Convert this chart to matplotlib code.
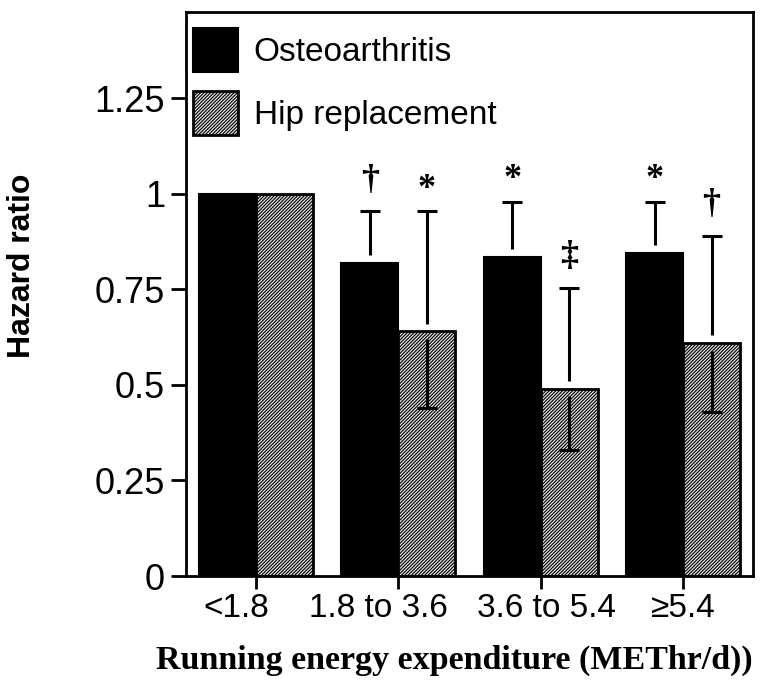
import matplotlib.pyplot as plt
import numpy as np

# data
groups = ['<1.8', '1.8 to 3.6', '3.6 to 5.4', '\u22655.4']
oa_hr = [1.0, 0.82, 0.835, 0.845]
oa_upper = [np.nan, 0.955, 0.98, 0.98]
hip_hr = [1.0, 0.64, 0.49, 0.61]
hip_upper = [np.nan, 0.955, 0.755, 0.89]
hip_lower = [np.nan, 0.44, 0.33, 0.43]
oa_marks = ['', '\u2020', '*', '*']
hip_marks = ['', '*', '\u2021', '\u2020']

# tick labels in the original are not centred on the ticks
label_shift = [-0.14, -0.14, 0.04, 0.0]

plt.rcParams['font.family'] = ['Liberation Sans', 'DejaVu Sans']
plt.rcParams['hatch.linewidth'] = 0.8

fig = plt.figure(figsize=(7.62, 6.82), dpi=100)
ax = fig.add_axes([0.244, 0.1554, 0.744, 0.827])

x = np.arange(len(groups))
w = 0.40
b1 = ax.bar(x - w/2, oa_hr, w, color='black', edgecolor='black', linewidth=1.5,
            label='Osteoarthritis')
b2 = ax.bar(x + w/2, hip_hr, w, color='#e0e0e0', edgecolor='black', linewidth=2,
            hatch='//////////', label='Hip replacement')

gap = 0.02
lw = 2.2
for i in range(len(groups)):
    if not np.isnan(oa_upper[i]):
        ax.vlines(x[i] - w/2, oa_hr[i] + gap, oa_upper[i], color='black', lw=lw)
        ax.plot(x[i] - w/2, oa_upper[i], marker='_', ms=15, mew=lw, color='black')
    if not np.isnan(hip_upper[i]):
        ax.vlines(x[i] + w/2, hip_hr[i] + gap, hip_upper[i], color='black', lw=lw)
        ax.vlines(x[i] + w/2, hip_lower[i], hip_hr[i] - gap, color='black', lw=lw)
        ax.plot([x[i] + w/2] * 2, [hip_upper[i], hip_lower[i]], ls='none',
                marker='_', ms=15, mew=lw, color='black')

def mark(xp, yp, s):
    if s == '':
        return
    off = 22 if s == '*' else 31
    ax.annotate(s, (xp, yp), xytext=(0, off), textcoords='offset pixels',
                ha='center', va='center', fontsize=26, fontweight='bold',
                family='Liberation Serif')

for i in range(len(groups)):
    mark(x[i] - w/2, oa_upper[i], oa_marks[i])
    mark(x[i] + w/2, hip_upper[i], hip_marks[i])

ax.set_xlim(-0.49, 3.49)
ax.set_ylim(0, 1.476)
ax.set_yticks([0, 0.25, 0.5, 0.75, 1, 1.25])
ax.set_yticklabels(['0', '0.25', '0.5', '0.75', '1', '1.25'], fontsize=26)

ax.xaxis.remove_overlapping_locs = False
ax.set_xticks(x)
ax.set_xticklabels([])
ax.set_xticks(x + np.array(label_shift), minor=True)
ax.set_xticklabels(groups, minor=True, fontsize=24)
ax.tick_params(axis='x', which='major', direction='out', length=9, width=2)
ax.tick_params(axis='x', which='minor', length=0, pad=12)
ax.tick_params(axis='y', direction='out', length=11, width=2, pad=4)

for sp in ax.spines.values():
    sp.set_linewidth(2)

ax.set_ylabel('Hazard ratio', fontsize=23, fontweight='bold')
ax.yaxis.set_label_coords(-0.262, 0.55)
ax.set_xlabel('Running energy expenditure (METhr/d))', fontsize=24.5,
              fontweight='bold', family='Liberation Serif')
ax.xaxis.set_label_coords(0.474, -0.122)

ax.legend(handles=[b1, b2], loc='upper left', bbox_to_anchor=(0.012, 0.972),
          frameon=False, fontsize=24, handlelength=1.35, handleheight=1.65,
          handletextpad=0.48, labelspacing=0.57, borderpad=0, borderaxespad=0)

fig.savefig('out.png', dpi=100)
